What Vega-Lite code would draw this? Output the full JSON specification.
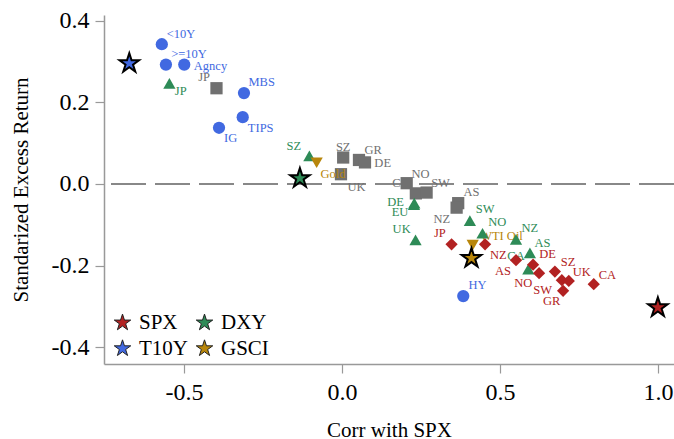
{
  "$schema": "https://vega.github.io/schema/vega-lite/v6.json",
  "autosize": "none",
  "width": 570,
  "height": 349,
  "padding": {"left": 104, "top": 15, "right": 0, "bottom": 75},
  "background": "white",
  "config": {
    "view": {"stroke": null},
    "font": "Liberation Serif",
    "axis": {
      "grid": false,
      "domainColor": "#999999",
      "domainWidth": 1.5,
      "tickColor": "#999999",
      "tickWidth": 1.2,
      "tickSize": 9,
      "labelFont": "Liberation Serif",
      "labelFontSize": 24,
      "labelColor": "#000000",
      "titleFont": "Liberation Serif",
      "titleFontSize": 21,
      "titleFontWeight": "normal",
      "titleColor": "#000000"
    },
    "legend": {
      "labelFont": "Liberation Serif",
      "labelFontSize": 21,
      "labelColor": "#000000"
    }
  },
  "data": {
    "values": [
      {"kind": "pt", "grp": "T10Y", "name": "<10Y", "x": -0.570, "y": 0.343, "lx": -0.509, "ly": 0.367},
      {"kind": "pt", "grp": "T10Y", "name": ">=10Y", "x": -0.557, "y": 0.293, "lx": -0.484, "ly": 0.320},
      {"kind": "pt", "grp": "T10Y", "name": "Agncy", "x": -0.499, "y": 0.293, "lx": -0.416, "ly": 0.290},
      {"kind": "pt", "grp": "T10Y", "name": "MBS", "x": -0.310, "y": 0.223, "lx": -0.254, "ly": 0.250},
      {"kind": "pt", "grp": "T10Y", "name": "TIPS", "x": -0.314, "y": 0.164, "lx": -0.257, "ly": 0.138},
      {"kind": "pt", "grp": "T10Y", "name": "IG", "x": -0.389, "y": 0.138, "lx": -0.352, "ly": 0.112},
      {"kind": "pt", "grp": "T10Y", "name": "HY", "x": 0.384, "y": -0.275, "lx": 0.429, "ly": -0.248},
      {"kind": "pt", "grp": "Other", "name": "JP", "x": -0.397, "y": 0.235, "lx": -0.436, "ly": 0.262},
      {"kind": "pt", "grp": "Other", "name": "SZ", "x": 0.004, "y": 0.065, "lx": 0.004, "ly": 0.092},
      {"kind": "pt", "grp": "Other", "name": "GR", "x": 0.054, "y": 0.059, "lx": 0.099, "ly": 0.083},
      {"kind": "pt", "grp": "Other", "name": "DE", "x": 0.073, "y": 0.053, "lx": 0.129, "ly": 0.052},
      {"kind": "pt", "grp": "Other", "name": "UK", "x": -0.003, "y": 0.024, "lx": 0.046, "ly": -0.007},
      {"kind": "pt", "grp": "Other", "name": "CA", "x": 0.205, "y": 0.002, "lx": 0.187, "ly": 0.002},
      {"kind": "pt", "grp": "Other", "name": "NO", "x": 0.234, "y": -0.023, "lx": 0.249, "ly": 0.025},
      {"kind": "pt", "grp": "Other", "name": "SW", "x": 0.268, "y": -0.021, "lx": 0.312, "ly": 0.003},
      {"kind": "pt", "grp": "Other", "name": "AS", "x": 0.368, "y": -0.047, "lx": 0.410, "ly": -0.020},
      {"kind": "pt", "grp": "Other", "name": "NZ", "x": 0.363, "y": -0.058, "lx": 0.316, "ly": -0.087},
      {"kind": "pt", "grp": "DXY", "name": "JP", "x": -0.546, "y": 0.247, "lx": -0.510, "ly": 0.227},
      {"kind": "pt", "grp": "DXY", "name": "SZ", "x": -0.103, "y": 0.069, "lx": -0.152, "ly": 0.093},
      {"kind": "pt", "grp": "DXY", "name": "DE", "x": 0.229, "y": -0.047, "lx": 0.170, "ly": -0.043},
      {"kind": "pt", "grp": "DXY", "name": "EU", "x": 0.228, "y": -0.051, "lx": 0.184, "ly": -0.068},
      {"kind": "pt", "grp": "DXY", "name": "UK", "x": 0.233, "y": -0.137, "lx": 0.189, "ly": -0.110},
      {"kind": "pt", "grp": "DXY", "name": "SW", "x": 0.405, "y": -0.090, "lx": 0.453, "ly": -0.061},
      {"kind": "pt", "grp": "DXY", "name": "NO", "x": 0.445, "y": -0.121, "lx": 0.492, "ly": -0.094},
      {"kind": "pt", "grp": "DXY", "name": "NZ", "x": 0.551, "y": -0.136, "lx": 0.595, "ly": -0.107},
      {"kind": "pt", "grp": "DXY", "name": "AS", "x": 0.595, "y": -0.169, "lx": 0.635, "ly": -0.144},
      {"kind": "pt", "grp": "DXY", "name": "CA", "x": 0.590, "y": -0.209, "lx": 0.551, "ly": -0.177},
      {"kind": "pt", "grp": "SPX", "name": "JP", "x": 0.347, "y": -0.148, "lx": 0.310, "ly": -0.121},
      {"kind": "pt", "grp": "SPX", "name": "NZ", "x": 0.453, "y": -0.148, "lx": 0.495, "ly": -0.174},
      {"kind": "pt", "grp": "SPX", "name": "AS", "x": 0.551, "y": -0.187, "lx": 0.510, "ly": -0.213},
      {"kind": "pt", "grp": "SPX", "name": "DE", "x": 0.605, "y": -0.198, "lx": 0.651, "ly": -0.173},
      {"kind": "pt", "grp": "SPX", "name": "NO", "x": 0.624, "y": -0.219, "lx": 0.574, "ly": -0.244},
      {"kind": "pt", "grp": "SPX", "name": "SZ", "x": 0.674, "y": -0.215, "lx": 0.716, "ly": -0.192},
      {"kind": "pt", "grp": "SPX", "name": "SW", "x": 0.696, "y": -0.236, "lx": 0.635, "ly": -0.260},
      {"kind": "pt", "grp": "SPX", "name": "UK", "x": 0.718, "y": -0.238, "lx": 0.759, "ly": -0.215},
      {"kind": "pt", "grp": "SPX", "name": "GR", "x": 0.700, "y": -0.262, "lx": 0.664, "ly": -0.287},
      {"kind": "pt", "grp": "SPX", "name": "CA", "x": 0.797, "y": -0.246, "lx": 0.840, "ly": -0.223},
      {"kind": "pt", "grp": "GSCI", "name": "WTI Oil", "x": 0.414, "y": -0.150, "lx": 0.505, "ly": -0.127},
      {"kind": "pt", "grp": "GSCI", "name": "Gold", "x": -0.080, "y": 0.052, "lx": -0.028, "ly": 0.024},
      {"kind": "star", "grp": "SPX", "name": "SPX", "x": 1.0, "y": -0.303},
      {"kind": "star", "grp": "DXY", "name": "DXY", "x": -0.133, "y": 0.014},
      {"kind": "star", "grp": "T10Y", "name": "T10Y", "x": -0.673, "y": 0.296},
      {"kind": "star", "grp": "GSCI", "name": "GSCI", "x": 0.410, "y": -0.182}
    ]
  },
  "encoding": {
    "x": {
      "field": "x", "type": "quantitative",
      "scale": {"domain": [-0.753, 1.051], "nice": false, "zero": false},
      "axis": {
        "orient": "bottom", "title": "Corr with SPX", "values": [-0.5, 0, 0.5, 1],
        "labelExpr": "replace(format(datum.value, '.1f'), '\u2212', '-')",
        "labelPadding": 7, "titlePadding": 15
      }
    },
    "y": {
      "field": "y", "type": "quantitative",
      "scale": {"domain": [-0.4417, 0.4147], "nice": false, "zero": false},
      "axis": {
        "orient": "left", "title": "Standarized Excess Return", "values": [-0.4, -0.2, 0, 0.2, 0.4],
        "labelExpr": "replace(format(datum.value, '.1f'), '\u2212', '-')",
        "labelPadding": 6, "titlePadding": 20
      }
    }
  },
  "layer": [
    {
      "mark": {"type": "rule", "color": "#888888", "strokeWidth": 1.5, "strokeDash": [35, 9]},
      "encoding": {
        "x": null,
        "y": {"datum": 0, "type": "quantitative"}
      }
    },
    {
      "transform": [{"filter": "datum.kind === 'pt' && datum.grp === 'Other'"}],
      "mark": {"type": "text", "font": "Liberation Serif", "fontSize": 12.5, "align": "center", "baseline": "middle"},
      "encoding": {
        "x": {"field": "lx", "type": "quantitative"},
        "y": {"field": "ly", "type": "quantitative"},
        "text": {"field": "name"},
        "color": {
          "field": "grp", "type": "nominal", "legend": null,
          "scale": {"domain": ["SPX", "DXY", "T10Y", "GSCI", "Other"], "range": ["#b22222", "#2e8b57", "#4169e1", "#b8860b", "#707070"]}
        }
      }
    },
    {
      "transform": [{"filter": "datum.kind === 'pt' && datum.grp === 'Other'"}],
      "mark": {"type": "point", "filled": true, "opacity": 1, "size": 150},
      "encoding": {
        "color": {"field": "grp", "type": "nominal", "legend": null},
        "shape": {
          "field": "grp", "type": "nominal", "legend": null,
          "scale": {"domain": ["SPX", "DXY", "T10Y", "GSCI", "Other"], "range": ["diamond", "triangle-up", "circle", "triangle-down", "square"]}
        }
      }
    },
    {
      "transform": [{"filter": "datum.kind === 'pt' && datum.grp !== 'Other'"}],
      "mark": {"type": "text", "font": "Liberation Serif", "fontSize": 12.5, "align": "center", "baseline": "middle"},
      "encoding": {
        "x": {"field": "lx", "type": "quantitative"},
        "y": {"field": "ly", "type": "quantitative"},
        "text": {"field": "name"},
        "color": {"field": "grp", "type": "nominal", "legend": null}
      }
    },
    {
      "transform": [{"filter": "datum.kind === 'pt' && datum.grp !== 'Other'"}],
      "mark": {"type": "point", "filled": true, "opacity": 1, "size": 150},
      "encoding": {
        "color": {"field": "grp", "type": "nominal", "legend": null},
        "shape": {"field": "grp", "type": "nominal", "legend": null}
      }
    },
    {
      "transform": [{"filter": "datum.kind === 'star'"}],
      "mark": {"type": "point", "shape": "M0,-1L0.2245,-0.309L0.9511,-0.309L0.3633,0.118L0.5878,0.809L0,0.382L-0.5878,0.809L-0.3633,0.118L-0.9511,-0.309L-0.2245,-0.309Z", "filled": true, "opacity": 1, "size": 420, "stroke": "#000000", "strokeWidth": 2},
      "encoding": {
        "fill": {
          "field": "grp", "type": "nominal",
          "scale": {"domain": ["SPX", "T10Y", "DXY", "GSCI"], "range": ["#b22222", "#4169e1", "#2e8b57", "#b8860b"]},
          "legend": {
            "title": null, "orient": "none", "legendX": 8, "legendY": 297,
            "columns": 2, "columnPadding": 6, "rowPadding": 4,
            "symbolType": "M0,-1L0.2245,-0.309L0.9511,-0.309L0.3633,0.118L0.5878,0.809L0,0.382L-0.5878,0.809L-0.3633,0.118L-0.9511,-0.309L-0.2245,-0.309Z",
            "symbolSize": 300, "symbolStrokeColor": "#222222", "symbolStrokeWidth": 1,
            "symbolOpacity": 1, "labelOffset": 6
          }
        }
      }
    }
  ]
}
